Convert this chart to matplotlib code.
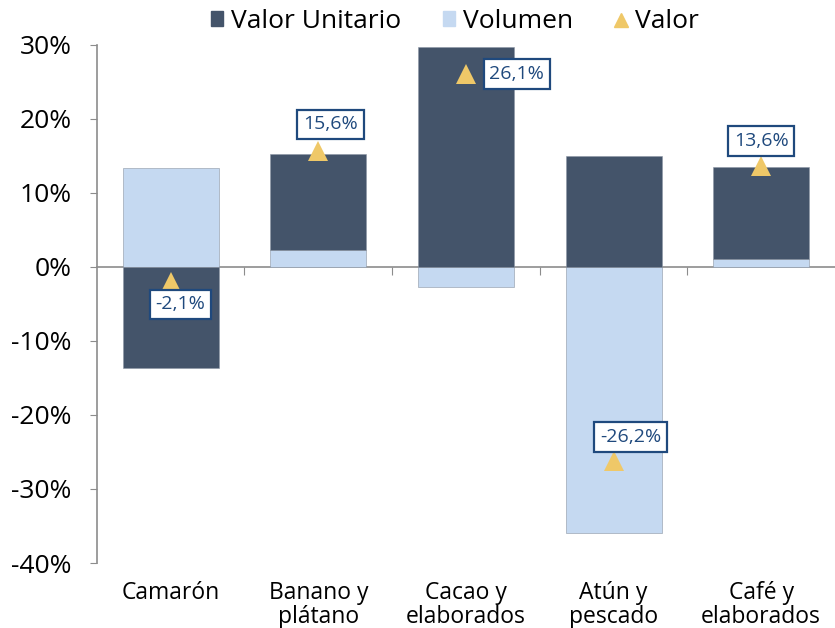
import numpy as np
import matplotlib.pyplot as plt
from matplotlib.lines import Line2D
from matplotlib.patches import Patch

plt.rcParams['font.family'] = ['Open Sans', 'DejaVu Sans']

# Data (%)
categorias = ['Camarón', 'Banano y\nplátano', 'Cacao y\nelaborados', 'Atún y\npescado', 'Café y\nelaborados']
volumen = [13.4, 2.3, -2.7, -35.9, 1.1]
valor_unitario = [-13.6, 13.0, 29.7, 15.0, 12.4]
valor = [-2.1, 15.6, 26.1, -26.2, 13.6]
etiquetas = ['-2,1%', '15,6%', '26,1%', '-26,2%', '13,6%']
# label offsets in pixels relative to the marker
offsets = [(10, -22), (12, 27), (51, 0), (17, 24), (0, 25)]

c_dark = '#44546A'
c_light = '#C5D9F1'
c_gold = '#EFC868'
c_lab = '#1F497D'

fig = plt.figure(figsize=(8.35, 6.28), dpi=100)
ax = fig.add_axes([0.116, 0.1035, 0.884, 0.825])

x = np.arange(len(categorias))
pos_base = np.zeros(len(x))
neg_base = np.zeros(len(x))
for serie, color in [(volumen, c_light), (valor_unitario, c_dark)]:
    v = np.array(serie)
    bottom = np.where(v >= 0, pos_base, neg_base)
    ax.bar(x, v, bottom=bottom, width=0.65, color=color, edgecolor='#8C96A4',
           linewidth=0.4, zorder=2)
    pos_base += np.where(v >= 0, v, 0)
    neg_base += np.where(v < 0, v, 0)

ax.plot(x, valor, linestyle='none', marker='^', ms=14, color=c_gold,
        markeredgewidth=0, zorder=4)
for xi, yi, txt, off in zip(x, valor, etiquetas, offsets):
    ax.annotate(txt, (xi, yi), xytext=off, textcoords='offset pixels',
                ha='center', va='center', fontsize=14, color=c_lab, zorder=5,
                bbox=dict(boxstyle='square,pad=0.3', fc='white', ec=c_lab, lw=1.6))

ax.set_xlim(-0.5, len(x) - 0.5)
ax.set_ylim(-40, 30)
ax.set_yticks(np.arange(-40, 31, 10))
ax.set_yticklabels([f'{t}%' for t in range(-40, 31, 10)], fontsize=19)
ax.set_xticks(x)
ax.set_xticklabels(categorias, fontsize=16.5, linespacing=1.0)
ax.tick_params(axis='x', length=0, pad=13)
ax.tick_params(axis='y', direction='out', length=5, color='#8C8C8C', pad=13)

for s in ['top', 'right', 'bottom']:
    ax.spines[s].set_visible(False)
ax.spines['left'].set_color('#8C8C8C')
ax.spines['left'].set_linewidth(1.2)

# horizontal axis line at 0 with ticks between categories
y0 = (0 - (-40)) / 70
secx = ax.secondary_xaxis(y0)
secx.set_xticks(np.arange(0.5, len(x) - 0.5, 1))
secx.set_xticklabels([])
secx.tick_params(direction='in', length=6, color='#8C8C8C')
for s in secx.spines.values():
    s.set_color('#8C8C8C')
    s.set_linewidth(1.2)

handles = [Patch(color=c_dark), Patch(color=c_light),
           Line2D([], [], linestyle='none', marker='^', color=c_gold, ms=10)]
fig.legend(handles, ['Valor Unitario', 'Volumen', 'Valor'], ncol=3, frameon=False,
           loc='center', bbox_to_anchor=(0.545, 0.966), fontsize=19,
           handlelength=0.45, handleheight=0.45, handletextpad=0.3, columnspacing=1.6)

fig.savefig('out.png', dpi=100)
